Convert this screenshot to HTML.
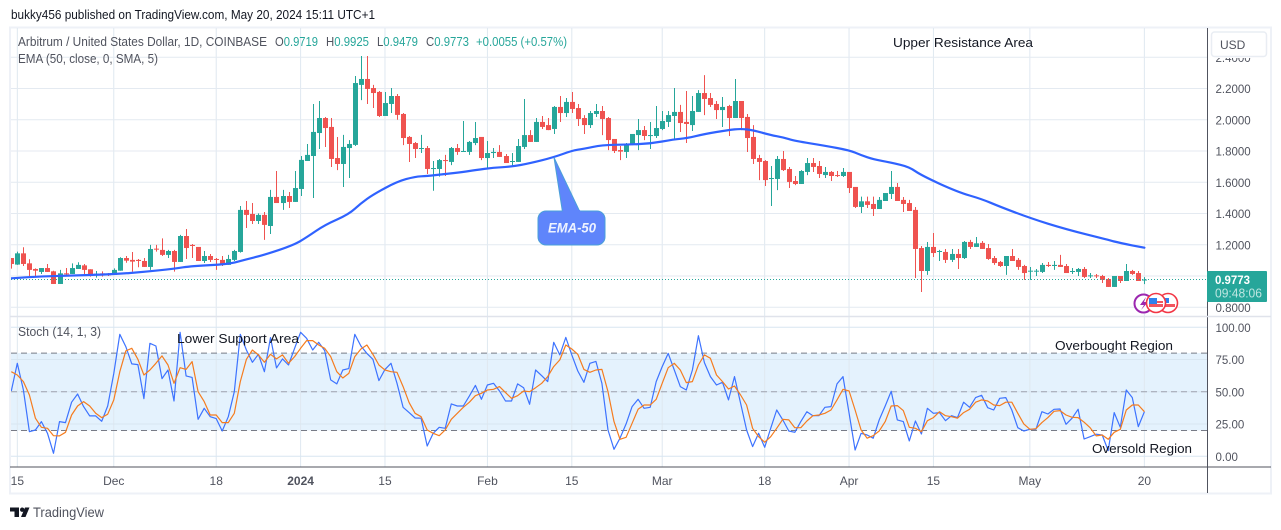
<!DOCTYPE html>
<html lang="en">
<head>
<meta charset="utf-8">
<title>Arbitrum / United States Dollar chart</title>
<style>
html,body{margin:0;padding:0;background:#fff;width:1281px;height:530px;overflow:hidden}
svg{display:block;font-family:"Liberation Sans",sans-serif}
text{white-space:pre}
</style>
</head>
<body>
<svg id="chart" width="1281" height="530" viewBox="0 0 1281 530" xmlns="http://www.w3.org/2000/svg">
  <defs>
    <clipPath id="price-clip"><rect x="11" y="29" width="1196" height="287"></rect></clipPath>
    <clipPath id="stoch-clip"><rect x="11" y="318" width="1196" height="149"></rect></clipPath>
  </defs>
  <rect x="10" y="27.5" width="1261" height="466" fill="#fff" stroke="#eef1f7" stroke-width="2"></rect>
  <text x="11" y="19" font-size="13" fill="#131722" textLength="364" lengthAdjust="spacingAndGlyphs">bukky456 published on TradingView.com, May 20, 2024 15:11 UTC+1</text>
  <g id="grid"></g>
  <g id="price-pane" clip-path="url(#price-clip)"></g>
  <g id="stoch-pane" clip-path="url(#stoch-clip)"></g>
  <g id="axes"></g>

  <g font-size="12.5" fill="#50535e">
    <text x="18" y="46" textLength="249" lengthAdjust="spacingAndGlyphs">Arbitrum / United States Dollar, 1D, COINBASE</text>
    <text x="275" y="46" textLength="43" lengthAdjust="spacingAndGlyphs">O<tspan fill="#26a69a">0.9719</tspan></text>
    <text x="326" y="46" textLength="43" lengthAdjust="spacingAndGlyphs">H<tspan fill="#26a69a">0.9925</tspan></text>
    <text x="377" y="46" textLength="41" lengthAdjust="spacingAndGlyphs">L<tspan fill="#26a69a">0.9479</tspan></text>
    <text x="426" y="46" textLength="43" lengthAdjust="spacingAndGlyphs">C<tspan fill="#26a69a">0.9773</tspan></text>
    <text x="476" y="46" fill="#26a69a" textLength="91" lengthAdjust="spacingAndGlyphs">+0.0055 (+0.57%)</text>
    <text x="18" y="63" textLength="140" lengthAdjust="spacingAndGlyphs">EMA (50, close, 0, SMA, 5)</text>
    <text x="18" y="336" textLength="83" lengthAdjust="spacingAndGlyphs">Stoch (14, 1, 3)</text>
  </g>

  <g font-size="13" fill="#131722">
    <text x="893" y="47" textLength="140" lengthAdjust="spacingAndGlyphs">Upper Resistance Area</text>
    <text x="177" y="343" textLength="122" lengthAdjust="spacingAndGlyphs">Lower Support Area</text>
    <text x="1055" y="350" textLength="118" lengthAdjust="spacingAndGlyphs">Overbought Region</text>
    <text x="1092" y="453" textLength="100" lengthAdjust="spacingAndGlyphs">Oversold Region</text>
  </g>

  <g>
    <path d="M554 157.5 L562.5 212 L580 212 Z" fill="#5f85fb" stroke="#4aa0d8" stroke-width="1"></path>
    <rect x="538" y="211" width="67" height="34" rx="8" fill="#5f85fb" stroke="#4aa0d8" stroke-width="1"></rect>
    <path d="M563 210 L580 210 L581 213 L562 213 Z" fill="#5f85fb"></path>
    <text x="572" y="232.5" text-anchor="middle" font-size="14" font-weight="bold" font-style="italic" fill="#eef3ff" textLength="48" lengthAdjust="spacingAndGlyphs">EMA-50</text>
  </g>

  <g>
    <circle cx="1143.5" cy="303.5" r="9" fill="#fff" stroke="#9c27b0" stroke-width="2"></circle>
    <path d="M1146 297 L1140 305 L1144 305 L1141 310 L1148 302 L1144 302 Z" fill="#9c27b0"></path>
    <g>
      <circle cx="1168" cy="303" r="9.5" fill="#fff" stroke="#f23645" stroke-width="1.6"></circle>
      <rect x="1161" y="304" width="14" height="3" fill="#f2555f"></rect>
      <rect x="1163" y="298" width="6" height="5" fill="#2f80ed"></rect>
    </g>
    <g>
      <circle cx="1156" cy="303" r="9.5" fill="#fff" stroke="#f23645" stroke-width="1.6"></circle>
      <rect x="1149" y="304" width="14" height="3" fill="#f2555f"></rect>
      <rect x="1153" y="301" width="10" height="2" fill="#f2555f"></rect>
      <rect x="1149" y="298" width="8" height="6" fill="#2f80ed"></rect>
    </g>
  </g>

  <g>
    <rect x="1207" y="271" width="60" height="31" rx="1" fill="#26a69a"></rect>
    <text x="1215" y="284" font-size="12" font-weight="bold" fill="#fff" textLength="35" lengthAdjust="spacingAndGlyphs">0.9773</text>
    <text x="1215" y="297.5" font-size="12.5" fill="#bfe6e1" textLength="47" lengthAdjust="spacingAndGlyphs">09:48:06</text>
  </g>

  <g>
    <rect x="1208" y="29" width="62" height="29" fill="#fff"></rect>
    <rect x="1211.5" y="32" width="55" height="24.5" rx="3" fill="#fff" stroke="#e9edf3" stroke-width="1.5"></rect>
    <text x="1220" y="49" font-size="12" fill="#50535e">USD</text>
  </g>

  <g>
    <path d="M10 507.5H19V517H14.5V511.5H10Z M25 507.5H29.5L25.5 517H21Z" fill="#131722"></path>
    <circle cx="22.2" cy="509.7" r="2.2" fill="#131722"></circle>
    <text x="33" y="517" font-size="13.5" fill="#50535e" textLength="71" lengthAdjust="spacingAndGlyphs">TradingView</text>
  </g>
</svg>

<script>
const opens = [1.115,1.073,1.145,1.081,1.045,1.026,1.051,1.030,.949,1.017,
1.013,1.045,1.068,1.043,1.009,1.017,1.011,1.007,1.034,1.115,
1.103,1.103,1.096,1.058,1.175,1.167,1.135,1.160,1.090,1.256,
1.199,1.186,1.096,1.128,1.109,1.103,1.071,1.103,1.154,1.423,
1.397,1.352,1.391,1.320,1.506,1.467,1.512,1.474,1.557,1.736,
1.768,1.915,2.011,1.954,1.755,1.717,1.819,1.839,2.223,2.261,
2.203,2.178,2.024,2.101,2.152,2.037,1.890,1.851,1.813,1.819,
1.685,1.685,1.742,1.730,1.819,1.794,1.794,1.851,1.890,1.755,
1.787,1.794,1.768,1.730,1.730,1.826,1.902,1.858,1.986,1.966,
1.941,2.082,2.043,2.114,2.075,2.011,1.966,2.037,2.056,2.011,
1.877,1.806,1.794,1.838,1.902,1.934,1.896,1.896,1.941,1.986,
2.024,2.050,1.986,1.966,2.050,2.171,2.139,2.101,2.062,2.088,
2.011,2.120,2.018,1.890,1.755,1.736,1.621,1.621,1.749,1.685,
1.608,1.589,1.666,1.723,1.704,1.646,1.666,1.646,1.640,1.666,
1.570,1.442,1.478,1.461,1.429,1.480,1.525,1.570,1.487,1.467,
1.423,1.179,1.032,1.186,1.154,1.154,1.103,1.141,1.115,1.218,
1.186,1.212,1.179,1.115,1.090,1.064,1.128,1.103,1.064,1.030,
1.030,1.026,1.071,1.064,1.071,1.064,1.026,1.026,1.045,.998,
1.004,1.000,.981,.930,1.000,.968,1.032,1.019,.9719];

const highs = [1.115,1.156,1.184,1.107,1.049,1.051,1.077,1.034,1.039,1.051,
1.081,1.088,1.077,1.043,1.032,1.030,1.019,1.049,1.120,1.128,
1.154,1.109,1.115,1.199,1.199,1.241,1.167,1.167,1.263,1.301,
1.205,1.186,1.160,1.141,1.115,1.128,1.135,1.167,1.448,1.480,
1.467,1.401,1.410,1.551,1.672,1.551,1.538,1.672,1.768,1.845,
2.101,2.120,2.018,2.011,1.890,1.903,1.870,2.280,2.408,2.408,
2.223,2.184,2.178,2.203,2.165,2.043,1.896,1.858,1.903,1.832,
1.736,1.749,1.775,1.826,1.845,1.992,1.864,1.986,1.890,1.864,
1.819,1.838,1.781,1.787,1.877,2.133,1.934,2.011,2.024,2.011,
2.088,2.152,2.139,2.178,2.101,2.030,2.056,2.101,2.088,2.018,
1.877,1.832,1.851,1.909,2.005,1.960,1.986,2.088,2.056,2.056,
2.203,2.095,2.184,2.152,2.190,2.286,2.171,2.120,2.146,2.095,
2.261,2.120,2.037,1.966,1.775,1.742,1.704,1.768,1.800,1.698,
1.640,1.678,1.755,1.755,1.736,1.698,1.672,1.672,1.691,1.666,
1.570,1.508,1.508,1.508,1.506,1.531,1.672,1.595,1.506,1.487,
1.442,1.192,1.218,1.275,1.167,1.173,1.173,1.173,1.224,1.231,
1.250,1.224,1.205,1.128,1.096,1.128,1.173,1.115,1.071,1.058,
1.045,1.083,1.090,1.096,1.135,1.077,1.051,1.051,1.058,1.019,
1.013,1.007,.987,1.000,1.000,1.077,1.039,1.032,.9925];

const lows = [1.047,1.071,1.064,1.000,.992,1.013,1.026,.949,.949,1.004,
1.013,1.045,1.013,.996,.990,.996,1.000,1.007,1.034,1.085,
1.028,1.056,1.058,1.039,1.156,1.128,1.115,1.028,1.090,1.109,
1.115,1.096,1.083,1.090,1.039,1.064,1.071,1.096,1.150,1.307,
1.333,1.333,1.231,1.269,1.467,1.423,1.435,1.474,1.512,1.736,
1.499,1.813,1.826,1.698,1.678,1.570,1.627,1.832,2.126,2.101,
2.075,2.018,2.024,2.043,2.000,1.838,1.730,1.755,1.787,1.653,
1.546,1.636,1.640,1.710,1.775,1.794,1.775,1.838,1.742,1.691,
1.755,1.762,1.723,1.698,1.730,1.813,1.858,1.858,1.941,1.934,
1.909,1.986,2.018,2.043,1.960,1.909,1.947,2.018,1.902,1.806,
1.787,1.742,1.755,1.838,1.806,1.870,1.813,1.883,1.934,1.954,
1.875,1.922,1.851,1.928,2.050,2.030,2.082,2.005,1.954,1.896,
2.011,1.934,1.794,1.717,1.614,1.576,1.448,1.550,1.672,1.563,
1.582,1.589,1.646,1.666,1.627,1.627,1.608,1.634,1.634,1.531,
1.435,1.403,1.435,1.384,1.429,1.480,1.493,1.480,1.410,1.416,
.987,.898,1.007,1.122,1.096,1.083,1.090,1.045,1.109,1.173,
1.186,1.173,1.103,1.071,1.058,1.007,1.096,1.039,.975,.975,
1.000,1.019,1.058,1.039,1.058,1.019,1.013,1.000,.987,.987,
.987,.955,.930,.930,.955,.968,1.007,.968,.9479];

const closes = [1.077,1.145,1.077,1.039,1.034,1.051,1.026,.949,1.017,1.011,
1.051,1.071,1.039,1.009,1.015,1.004,1.007,1.039,1.115,1.098,
1.092,1.096,1.058,1.173,1.169,1.135,1.160,1.090,1.256,1.179,
1.192,1.096,1.128,1.103,1.103,1.071,1.109,1.160,1.423,1.391,
1.352,1.391,1.327,1.506,1.467,1.512,1.474,1.563,1.743,1.775,
1.922,2.011,1.947,1.749,1.717,1.826,1.845,2.235,2.261,2.197,
2.171,2.024,2.107,2.152,2.031,1.883,1.845,1.813,1.819,1.685,
1.691,1.742,1.736,1.819,1.794,1.800,1.858,1.883,1.755,1.787,
1.794,1.762,1.723,1.736,1.832,1.902,1.858,1.986,1.954,1.934,
2.082,2.043,2.114,2.069,2.005,1.966,2.043,2.056,2.005,1.870,
1.800,1.796,1.845,1.909,1.934,1.896,1.902,1.947,1.992,2.030,
2.050,1.979,1.973,2.056,2.171,2.133,2.095,2.062,2.082,2.011,
2.120,2.011,1.883,1.749,1.730,1.614,1.627,1.749,1.678,1.602,
1.589,1.672,1.723,1.698,1.653,1.666,1.640,1.640,1.666,1.563,
1.442,1.478,1.455,1.429,1.487,1.531,1.570,1.480,1.461,1.416,
1.173,1.032,1.186,1.147,1.160,1.103,1.141,1.115,1.218,1.186,
1.209,1.173,1.109,1.083,1.064,1.128,1.096,1.058,1.019,1.034,
1.034,1.071,1.064,1.071,1.058,1.019,1.032,1.045,.994,1.004,
.998,.975,.930,1.000,.968,1.032,1.013,.968,.9773];

const emaBars = [0,4,9,17,22,27,30,36,39,42,47,49,52,56,58,60,64,67,69,72,75,77,80,83,86,90,93,95,98,102,106,110,112,115,119,121,123,126,128,130,135,139,141,143,146,149,151,157,161,164,169,175,182,184,188];
const emaValues = [.985,.996,1.002,1.011,1.026,1.047,1.064,1.075,1.107,1.135,1.201,1.248,1.327,1.395,1.465,1.521,1.604,1.636,1.640,1.653,1.666,1.678,1.693,1.700,1.721,1.760,1.802,1.815,1.838,1.841,1.847,1.875,1.881,1.909,1.934,1.943,1.934,1.902,1.888,1.864,1.834,1.805,1.774,1.747,1.726,1.698,1.644,1.538,1.493,1.444,1.371,1.299,1.231,1.211,1.181];

const stochK = [50.6,72.1,51.4,19.1,20.4,26.9,17.8,2.3,26.9,26.1,
41.9,48.3,38.5,31.3,31.3,27.1,39,64.3,94.6,85,
71.6,71.1,44.7,87.6,85.5,60.2,66.9,42.9,96.1,62.3,
61.2,28.7,37.2,30.7,29.2,19.6,30.7,50.1,94.6,82.4,
72.9,79.1,65.6,92,68.5,75.5,70.8,83.7,96.1,91.5,
82.4,88.4,81.9,59.2,56.1,66.9,68,94.6,85.5,79.8,
75.2,58.7,67.4,72.1,56.6,38,33.9,29.7,29.5,8,
17.8,22.5,21.7,40.6,39,39,46.8,55,44.2,55.3,
56.6,50.6,42.9,42.9,56.1,53.2,40.3,66.9,62.5,57.9,
88.4,78.6,92.2,78.6,66.1,57.4,72.1,73.6,56.6,20.4,
5.4,14,25.1,38.5,44.2,37.2,38,57.9,69.5,79.8,
66.9,54,51.4,66.9,93.5,72.6,61.8,55.3,57.4,43.7,
61.8,41.1,20.4,7.5,17.8,7,21.7,35.9,28.2,19.6,
18.6,26.9,34.6,31.5,31.5,38,38.5,56.1,61.8,33.3,
4.9,17.8,16.5,14,28.2,39,50.4,28.2,26.9,11.9,
27.4,17.3,37.2,33.3,33.9,27.6,31.5,30,41.9,38,
45.5,47.3,37.7,35.9,45,45.5,35.9,22.2,19.6,20.9,
20.9,34.6,32.8,36.4,36.7,24.8,29.5,36.4,13.4,15.2,
17.1,16.5,4.4,33.9,22.5,51.4,45.5,23,34.6];

const stochD = [65.6,63,57.9,47.5,29.5,22.5,21.7,16,15.8,18.6,
32,39,42.4,39,33.3,30,32.6,43.7,65.6,81.7,
83.7,75.2,63,66.9,72.1,77.8,70.8,56.6,68.7,67.4,
73.4,50.1,42.4,32,32,26.1,26.1,33.3,57.9,75.2,
82.4,78.6,72.9,79.1,75.5,78.6,72.1,77.3,83.7,89.7,
89.7,86.3,83.7,77.3,65.6,60.7,64.3,77.3,83.2,86.3,
79.1,70.8,66.9,65.6,65.1,54,41.6,33.3,30.7,20.4,
17.8,16,20.4,28.7,33.3,38,41.9,47,48.8,51.4,
51.9,54,49.4,45,47,50.6,50.1,53.2,56.6,61.8,
69.5,74.7,86.3,83.2,79.1,67.4,65.1,66.9,67.4,50.1,
26.9,13.2,14.7,25.6,36.4,39.8,39.8,44.2,56.6,68.7,
72.1,66.9,57.1,57.9,70.8,78.6,76,63,57.9,52.2,
54.5,47.5,39.8,21.7,15.2,10.9,15.2,21.7,28.7,28.2,
22.2,22.2,27.4,31.5,32,33.3,35.9,43.7,51.9,50.6,
35.9,20.4,14,16,19.6,26.9,39,39.3,35.4,22.5,
21.7,19.1,27.6,30,34.6,31.5,30.7,29.5,33.9,36.4,
41.9,43.7,42.9,39.8,39.3,41.9,41.9,33.3,25.1,20.9,
21.4,26.1,30,34.9,35.4,32,30.2,30,26.4,22.2,
15.8,16.5,13.2,18.6,20.9,35.9,39.8,39.8,34.6];

const timeTickBars = [1,17,34,48,62,79,93,108,125,139,153,169,188];
const timeTickLabels = ["15","Dec","18","2024","15","Feb","15","Mar","18","Apr","15","May","20"];
const priceTicks = [2.4,2.2,2.0,1.8,1.6,1.4,1.2,1.0,0.8];
const priceLabelTicks = [2.4,2.2,2.0,1.8,1.6,1.4,1.2,0.8];
const stochTicks = [100,75,50,25,0];
const stochBandLimits = [80,20];
const stochMidline = [50];
const lastClose = [0.9773];

const NS = "http://www.w3.org/2000/svg";
const xScale = i => 11.3 + 6.027 * i;
const priceY = p => 88.5 + (2.2 - p) * 156.25;
const stochY = v => 456.3 - v * 1.29;
const BULL = "#26a69a";
const BEAR = "#ef5350";

function make(tag, attrs, parent) {
  const el = document.createElementNS(NS, tag);
  for (const k in attrs) el.setAttribute(k, attrs[k]);
  parent.appendChild(el);
  return el;
}
function polyPoints(xs, ys) {
  return xs.map((x, i) => x.toFixed(1) + "," + ys[i].toFixed(1)).join(" ");
}
function smoothPath(xs, ys) {
  let d = "M" + xs[0].toFixed(1) + " " + ys[0].toFixed(1);
  for (let i = 1; i < xs.length - 1; i++) {
    const mx = (xs[i] + xs[i + 1]) / 2;
    const my = (ys[i] + ys[i + 1]) / 2;
    d += " Q" + xs[i].toFixed(1) + " " + ys[i].toFixed(1) + " " + mx.toFixed(1) + " " + my.toFixed(1);
  }
  const n = xs.length - 1;
  d += " L" + xs[n].toFixed(1) + " " + ys[n].toFixed(1);
  return d;
}

const grid = document.getElementById("grid");
const pricePane = document.getElementById("price-pane");
const stochPane = document.getElementById("stoch-pane");
const axes = document.getElementById("axes");

/* stochastic band sits under the grid */
const band = make("rect", {x: 11, y: stochY(stochBandLimits[0]), width: 1196, height: stochY(stochBandLimits[1]) - stochY(stochBandLimits[0]), fill: "#e4f2fd"}, grid);



/* vertical grid */
timeTickBars.forEach(b => {
  const line = make("line", {x1: xScale(b), x2: xScale(b), y1: 28, y2: 467, stroke: "#dfe8f0", "stroke-width": 1}, grid);
  
  
});
/* horizontal grid */
priceTicks.forEach(p => {
  const line = make("line", {x1: 11, x2: 1207, y1: priceY(p), y2: priceY(p), stroke: "#e4eaf1", "stroke-width": 1}, grid);
  
  
});
stochTicks.forEach(v => {
  const line = make("line", {x1: 11, x2: 1207, y1: stochY(v), y2: stochY(v), stroke: "#d8e6f1", "stroke-width": 1}, grid);
  
  
});

/* candles */
opens.forEach((o, i) => {
  const c = closes[i];
  const color = c >= o ? BULL : BEAR;
  const x = Math.round(xScale(i)) + 0.5;
  const g = make("g", {}, pricePane);
  
  
  make("line", {x1: x, x2: x, y1: priceY(highs[i]), y2: priceY(lows[i]), stroke: color, "stroke-width": 1}, g);
  const top = priceY(Math.max(o, c));
  const bottom = priceY(Math.min(o, c));
  make("rect", {x: x - 2.5, y: top, width: 5, height: Math.max(bottom - top, 1), fill: color}, g);
});

/* last price line */
const lastLine = make("line", {x1: 11, x2: 1207, y1: priceY(lastClose[0]), y2: priceY(lastClose[0]), stroke: BULL, "stroke-width": 1, "stroke-dasharray": "1 2"}, pricePane);



/* EMA */
const emaLine = make("path", {d: smoothPath(emaBars.map(xScale), emaValues.map(priceY)), fill: "none", stroke: "#2f62ff", "stroke-width": 2.2, "stroke-linejoin": "round", "stroke-linecap": "round"}, pricePane);



/* stochastic limit lines */
stochBandLimits.forEach(v => {
  const line = make("line", {x1: 11, x2: 1207, y1: stochY(v), y2: stochY(v), stroke: "#787b86", "stroke-width": 1, "stroke-dasharray": "6 4"}, stochPane);
  
  
});
stochMidline.forEach(v => {
  const line = make("line", {x1: 11, x2: 1207, y1: stochY(v), y2: stochY(v), stroke: "#9ea2ad", "stroke-width": 1, "stroke-dasharray": "6 4"}, stochPane);
  
  
});

/* stochastic lines */
const kLine = make("polyline", {points: polyPoints(stochK.map((v, i) => xScale(i)), stochK.map(stochY)), fill: "none", stroke: "#3d73ff", "stroke-width": 1.2, "stroke-linejoin": "round"}, stochPane);


const dLine = make("polyline", {points: polyPoints(stochD.map((v, i) => xScale(i)), stochD.map(stochY)), fill: "none", stroke: "#f57c1f", "stroke-width": 1.2, "stroke-linejoin": "round"}, stochPane);



/* axis lines */
const priceAxisLine = make("line", {x1: 1207.5, x2: 1207.5, y1: 28, y2: 493, stroke: "#50535e", "stroke-width": 1}, axes);


const timeAxisLine = make("line", {x1: 10, x2: 1271, y1: 467, y2: 467, stroke: "#50535e", "stroke-width": 1}, axes);


const paneSeparator = make("line", {x1: 10, x2: 1271, y1: 316.5, y2: 316.5, stroke: "#e0e3eb", "stroke-width": 1.5}, axes);



/* axis labels */
priceLabelTicks.forEach(p => {
  const t = make("text", {x: 1215.5, y: priceY(p) + 4.5, "font-size": 11.5, fill: "#50535e"}, axes);
  
  
  t.textContent = p.toFixed(4);
});
stochTicks.forEach(v => {
  const t = make("text", {x: 1215.5, y: stochY(v) + 4.5, "font-size": 11.5, fill: "#50535e"}, axes);
  
  
  t.textContent = v.toFixed(2);
});
timeTickBars.forEach((b, i) => {
  const label = timeTickLabels[i];
  const t = make("text", {x: xScale(b), y: 485, "text-anchor": "middle", "font-size": 12, fill: "#50535e"}, axes);
  
  
  if (label === "2024") t.setAttribute("font-weight", "bold");
  t.textContent = label;
});
</script>
</body>
</html>
